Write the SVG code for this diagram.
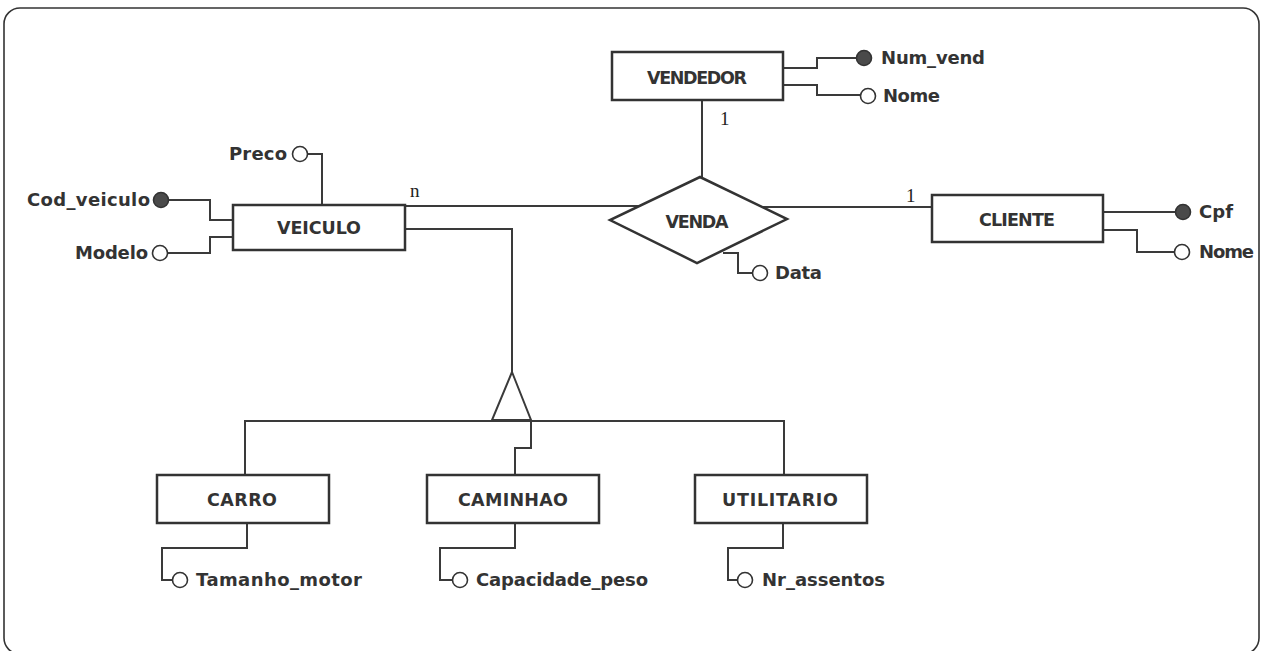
<svg xmlns="http://www.w3.org/2000/svg" width="1262" height="651" viewBox="0 0 1262 651">
<style>
.ent{fill:#fff;stroke:#333;stroke-width:2.5}
.ln{fill:none;stroke:#3a3a3a;stroke-width:2}
.att{fill:#fff;stroke:#333;stroke-width:1.6}
.key{fill:#4a4a4a;stroke:#333;stroke-width:1.6}
.t{font-family:"DejaVu Sans",Verdana,sans-serif;font-weight:bold;font-size:18px;fill:#333}
.c{font-family:"DejaVu Sans",Verdana,sans-serif;font-weight:bold;font-size:17.5px;fill:#333;text-anchor:middle}
.card{font-family:"Liberation Serif","DejaVu Serif",serif;font-size:19px;fill:#222}
</style>
<rect x="4" y="8" width="1255" height="646" rx="16" fill="#fff" stroke="#333" stroke-width="1.6"/>
<g id="connectors">
<path class="ln" d="M702,100 V178"/>
<path class="ln" d="M405,206 H639"/>
<path class="ln" d="M763,207 H932"/>
<path class="ln" d="M783,68 H817 V58 H856"/>
<path class="ln" d="M783,85 H817 V95 H860"/>
<path class="ln" d="M307,154 H322 V205"/>
<path class="ln" d="M168,200 H210 V220 H233"/>
<path class="ln" d="M167,253 H210 V237 H233"/>
<path class="ln" d="M723,253 H738 V273 H753"/>
<path class="ln" d="M1103,212 H1176"/>
<path class="ln" d="M1103,230 H1137 V252 H1175"/>
<path class="ln" d="M405,229 H512 V372"/>
<path class="ln" d="M245,475 V421 H784 V475"/>
<path class="ln" d="M531,421 V448 H515 V475"/>
<path class="ln" d="M247,523 V548 H162 V580 H173"/>
<path class="ln" d="M515,523 V548 H440 V580 H453"/>
<path class="ln" d="M783,523 V548 H728 V580 H738"/>
<polygon class="ln" points="512,372 531,420 492,420" fill="#fff"/>
</g>
<g id="vendedor"><rect class="ent" x="612" y="52" width="171" height="48"/><text class="c" x="697" y="84" textLength="100">VENDEDOR</text></g>
<g id="veiculo"><rect class="ent" x="233" y="205" width="172" height="45"/><text class="c" x="319" y="234" textLength="84">VEICULO</text></g>
<g id="venda"><polygon class="ent" points="700,177 787,219 697,263 610,220"/><text class="c" x="697" y="228" textLength="63">VENDA</text></g>
<g id="cliente"><rect class="ent" x="932" y="195" width="171" height="47"/><text class="c" x="1017" y="226" textLength="76">CLIENTE</text></g>
<g id="carro"><rect class="ent" x="157" y="475" width="172" height="48"/><text class="c" x="242" y="506" textLength="70">CARRO</text></g>
<g id="caminhao"><rect class="ent" x="427" y="475" width="172" height="48"/><text class="c" x="513" y="506" textLength="110">CAMINHAO</text></g>
<g id="utilitario"><rect class="ent" x="695" y="475" width="172" height="48"/><text class="c" x="780" y="506" textLength="116">UTILITARIO</text></g>
<g id="attr-num-vend"><circle class="key" cx="864" cy="58" r="7.5"/><text class="t" x="881" y="64" textLength="104">Num_vend</text></g>
<g id="attr-nome-vend"><circle class="att" cx="868" cy="96" r="7.5"/><text class="t" x="883" y="102" textLength="57">Nome</text></g>
<g id="attr-preco"><circle class="att" cx="300" cy="154" r="7.5"/><text class="t" x="287" y="160" text-anchor="end" textLength="58">Preco</text></g>
<g id="attr-cod-veiculo"><circle class="key" cx="161" cy="200" r="7.5"/><text class="t" x="150" y="206" text-anchor="end" textLength="123">Cod_veiculo</text></g>
<g id="attr-modelo"><circle class="att" cx="160" cy="253" r="7.5"/><text class="t" x="148" y="259" text-anchor="end" textLength="73">Modelo</text></g>
<g id="attr-data"><circle class="att" cx="760" cy="273" r="7.5"/><text class="t" x="775" y="279" textLength="47">Data</text></g>
<g id="attr-cpf"><circle class="key" cx="1183" cy="212" r="7.5"/><text class="t" x="1199" y="218" textLength="34">Cpf</text></g>
<g id="attr-nome-cliente"><circle class="att" cx="1182" cy="252" r="7.5"/><text class="t" x="1199" y="258" textLength="55">Nome</text></g>
<g id="attr-tamanho-motor"><circle class="att" cx="180" cy="580" r="7.5"/><text class="t" x="196" y="586" textLength="166">Tamanho_motor</text></g>
<g id="attr-capacidade-peso"><circle class="att" cx="460" cy="580" r="7.5"/><text class="t" x="476" y="586" textLength="172">Capacidade_peso</text></g>
<g id="attr-nr-assentos"><circle class="att" cx="745" cy="580" r="7.5"/><text class="t" x="762" y="586" textLength="123">Nr_assentos</text></g>
<g id="cardinalities">
<text class="card" x="410" y="197">n</text>
<text class="card" x="720" y="125">1</text>
<text class="card" x="906" y="202">1</text>
</g>
</svg>
